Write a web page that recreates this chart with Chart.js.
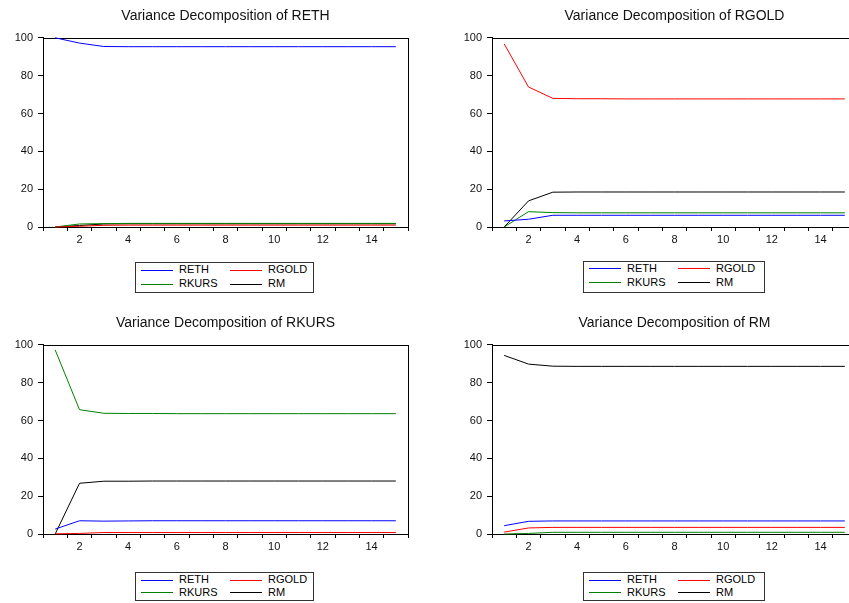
<!DOCTYPE html>
<html><head><meta charset="utf-8">
<script src="https://cdn.jsdelivr.net/npm/chart.js@4.4.1/dist/chart.umd.min.js"></script>
<style>
html,body{margin:0;padding:0;background:#fff;overflow:hidden;width:849px;height:603px;position:relative;}
canvas.panel{position:absolute;}
.legend{position:absolute;border:1px solid #333;background:#fff;font-family:"Liberation Sans",Arial,sans-serif;font-size:11px;color:#000;box-sizing:border-box;}
.item{position:absolute;height:14px;line-height:14px;white-space:nowrap;}
.item .swatch{position:absolute;left:0;width:32px;height:1px;}
.item .lbl{position:absolute;left:38px;top:0;}
</style></head><body>
<canvas id="c0" class="panel" width="430" height="250" style="left:0;top:0"></canvas>
<canvas id="c1" class="panel" width="430" height="250" style="left:449px;top:0"></canvas>
<canvas id="c2" class="panel" width="430" height="250" style="left:0;top:307px"></canvas>
<canvas id="c3" class="panel" width="430" height="250" style="left:449px;top:307px"></canvas>
<script>
// ---- data ----
const horizons = ['1','2','3','4','5','6','7','8','9','10','11','12','13','14','15'];
const seriesNames = ['RETH', 'RGOLD', 'RKURS', 'RM'];
const seriesColors = ['#0000FF', '#FF0000', '#008000', '#000000'];
const panelTitles = ['Variance Decomposition of RETH', 'Variance Decomposition of RGOLD',
                     'Variance Decomposition of RKURS', 'Variance Decomposition of RM'];

// Variance Decomposition of RETH
const reth_RETH  = [100.0, 97.2, 95.4, 95.3, 95.3, 95.3, 95.3, 95.3, 95.3, 95.3, 95.3, 95.3, 95.3, 95.3, 95.3];
const reth_RGOLD = [0.0, 0.4, 0.9, 1.0, 1.0, 1.0, 1.0, 1.0, 1.0, 1.0, 1.0, 1.0, 1.0, 1.0, 1.0];
const reth_RKURS = [0.0, 1.6, 1.8, 1.9, 1.9, 1.9, 1.9, 1.9, 1.9, 1.9, 1.9, 1.9, 1.9, 1.9, 1.9];
const reth_RM    = [0.0, 0.8, 1.6, 1.7, 1.7, 1.7, 1.7, 1.7, 1.7, 1.7, 1.7, 1.7, 1.7, 1.7, 1.7];

// Variance Decomposition of RGOLD
const rgold_RETH  = [3.2, 4.1, 6.2, 6.2, 6.2, 6.2, 6.2, 6.2, 6.2, 6.2, 6.2, 6.2, 6.2, 6.2, 6.2];
const rgold_RGOLD = [96.8, 74.0, 68.0, 67.8, 67.8, 67.7, 67.7, 67.7, 67.7, 67.7, 67.7, 67.7, 67.7, 67.7, 67.7];
const rgold_RKURS = [0.0, 8.1, 7.6, 7.5, 7.5, 7.5, 7.5, 7.5, 7.5, 7.5, 7.5, 7.5, 7.5, 7.5, 7.5];
const rgold_RM    = [0.0, 13.8, 18.4, 18.5, 18.5, 18.5, 18.5, 18.5, 18.5, 18.5, 18.5, 18.5, 18.5, 18.5, 18.5];

// Variance Decomposition of RKURS
const rkurs_RETH  = [2.6, 7.0, 6.8, 6.9, 7.0, 7.0, 7.0, 7.0, 7.0, 7.0, 7.0, 7.0, 7.0, 7.0, 7.0];
const rkurs_RGOLD = [0.1, 0.3, 0.8, 0.8, 0.8, 0.8, 0.8, 0.8, 0.8, 0.8, 0.8, 0.8, 0.8, 0.8, 0.8];
const rkurs_RKURS = [97.3, 65.7, 63.8, 63.7, 63.7, 63.6, 63.6, 63.6, 63.6, 63.6, 63.6, 63.6, 63.6, 63.6, 63.6];
const rkurs_RM    = [0.0, 26.8, 27.9, 27.9, 28.0, 28.0, 28.0, 28.0, 28.0, 28.0, 28.0, 28.0, 28.0, 28.0, 28.0];

// Variance Decomposition of RM
const rm_RETH  = [4.4, 6.7, 6.9, 6.9, 6.9, 6.9, 6.9, 6.9, 6.9, 6.9, 6.9, 6.9, 6.9, 6.9, 6.9];
const rm_RGOLD = [1.0, 3.2, 3.5, 3.5, 3.5, 3.5, 3.5, 3.5, 3.5, 3.5, 3.5, 3.5, 3.5, 3.5, 3.5];
const rm_RKURS = [0.0, 0.3, 0.9, 0.9, 0.9, 0.9, 0.9, 0.9, 0.9, 0.9, 0.9, 0.9, 0.9, 0.9, 0.9];
const rm_RM    = [94.4, 89.8, 88.7, 88.6, 88.6, 88.6, 88.6, 88.6, 88.6, 88.6, 88.6, 88.6, 88.6, 88.6, 88.6];

const yTicks = [0, 20, 40, 60, 80, 100];

const panelSeries = [
  [reth_RETH, reth_RGOLD, reth_RKURS, reth_RM],
  [rgold_RETH, rgold_RGOLD, rgold_RKURS, rgold_RM],
  [rkurs_RETH, rkurs_RGOLD, rkurs_RKURS, rkurs_RM],
  [rm_RETH, rm_RGOLD, rm_RKURS, rm_RM]
];

// ---- rendering ----
const FONT = '"Liberation Sans", Arial, sans-serif';

const framePlugin = {
  id: 'frame',
  beforeDatasetsDraw(chart) {
    const {ctx, chartArea: a} = chart;
    ctx.save();
    ctx.strokeStyle = '#000';
    ctx.lineWidth = 1;
    const l = Math.round(a.left) + 0.5, t = Math.round(a.top) + 0.5;
    const r = Math.round(a.right) + 0.5, b = Math.round(a.bottom) + 0.5;
    ctx.strokeRect(l, t, r - l, b - t);
    ctx.restore();
  }
};

function makePanel(id, idx) {
  const datasets = seriesNames.map((name, i) => ({
    label: name,
    data: panelSeries[idx][i],
    borderColor: seriesColors[i],
    backgroundColor: seriesColors[i],
    borderWidth: 1,
    pointRadius: 0,
    tension: 0,
    fill: false,
    clip: false
  }));
  new Chart(document.getElementById(id), {
    type: 'line',
    data: { labels: horizons, datasets },
    plugins: [framePlugin],
    options: {
      responsive: false,
      animation: false,
      events: [],
      layout: { padding: { left: 0, right: 22, top: 0, bottom: 0 } },
      plugins: {
        legend: { display: false },
        tooltip: { enabled: false },
        title: {
          display: true,
          text: panelTitles[idx],
          fullSize: false,
          color: '#111',
          font: { family: FONT, size: 14, weight: 'normal' },
          padding: { top: 8, bottom: 13 }
        }
      },
      scales: {
        x: {
          type: 'category',
          offset: true,
          grid: { offset: true, drawOnChartArea: false, drawTicks: true, tickLength: 4, color: '#000', lineWidth: 1 },
          border: { display: true, color: '#000', width: 1 },
          ticks: {
            autoSkip: false, maxRotation: 0, minRotation: 0, padding: 2,
            color: '#111', font: { family: FONT, size: 11 },
            callback: function (value) {
              const lab = this.getLabelForValue(value);
              return (parseInt(lab, 10) % 2 === 0) ? lab : '';
            }
          },
          afterFit: (s) => { s.height = 23; }
        },
        y: {
          min: 0, max: 100,
          afterBuildTicks: (s) => { s.ticks = yTicks.map(v => ({ value: v })); },
          grid: { drawOnChartArea: false, drawTicks: true, tickLength: 5, color: '#000', lineWidth: 1 },
          border: { display: true, color: '#000', width: 1 },
          ticks: { padding: 5, color: '#111', font: { family: FONT, size: 11 } },
          afterFit: (s) => { s.width = 43; }
        }
      }
    }
  });
}

['c0', 'c1', 'c2', 'c3'].forEach((id, i) => makePanel(id, i));

// HTML legends (one per panel), built from series names/colors
const legendBoxes = [
  { left: 135, top: 262, width: 179, height: 31, row: 14 },
  { left: 583, top: 261, width: 182, height: 32, row: 14 },
  { left: 135, top: 572, width: 179, height: 29, row: 13 },
  { left: 583, top: 572, width: 182, height: 29, row: 13 }
];
legendBoxes.forEach((b) => {
  const box = document.createElement('div');
  box.className = 'legend';
  box.style.left = b.left + 'px';
  box.style.top = b.top + 'px';
  box.style.width = b.width + 'px';
  box.style.height = b.height + 'px';
  seriesNames.forEach((name, i) => {
    const col = i % 2, row = Math.floor(i / 2);
    const itemTop = -1 + row * b.row;
    const it = document.createElement('div');
    it.className = 'item';
    it.style.left = (5 + col * 89) + 'px';
    it.style.top = itemTop + 'px';
    const sw = document.createElement('span');
    sw.className = 'swatch';
    let swTop = 8;
    if ((b.top + 1 + itemTop + swTop) % 2 !== 0) swTop -= 1;
    sw.style.top = swTop + 'px';
    sw.style.background = seriesColors[i];
    const lb = document.createElement('span');
    lb.className = 'lbl';
    lb.textContent = name;
    it.appendChild(sw); it.appendChild(lb);
    box.appendChild(it);
  });
  document.body.appendChild(box);
});
</script>
</body></html>
